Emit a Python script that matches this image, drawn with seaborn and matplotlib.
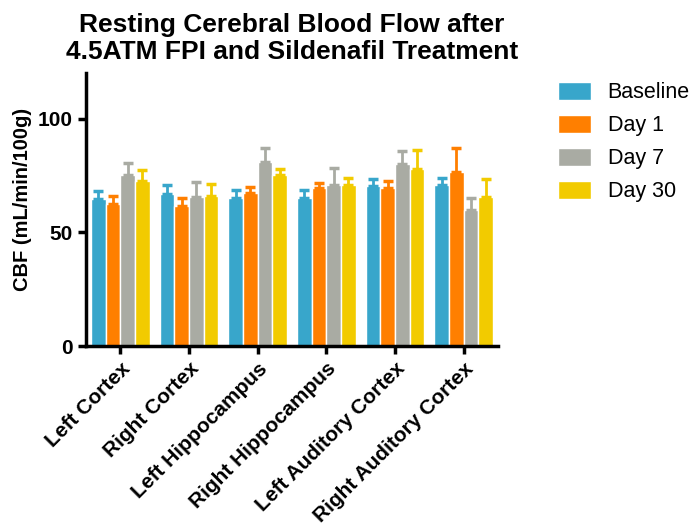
import pandas as pd
import matplotlib.pyplot as plt
import seaborn as sns

sns.set_style("white")
plt.rcParams["font.family"] = ["Liberation Sans", "DejaVu Sans"]
plt.rcParams["text.color"] = "black"
plt.rcParams["axes.labelcolor"] = "black"
plt.rcParams["xtick.color"] = "black"
plt.rcParams["ytick.color"] = "black"

# ---- data ----
regions = ["Left Cortex", "Right Cortex", "Left Hippocampus",
           "Right Hippocampus", "Left Auditory Cortex", "Right Auditory Cortex"]
timepoints = ["Baseline", "Day 1", "Day 7", "Day 30"]

baseline = [64.8, 67.0, 64.9, 65.2, 70.2, 70.6]
day1 = [62.4, 61.4, 67.3, 69.4, 69.4, 76.6]
day7 = [75.0, 65.6, 81.0, 70.8, 80.1, 60.0]
day30 = [72.5, 66.0, 75.0, 70.8, 77.9, 65.6]

baseline_sem = [3.3, 3.6, 3.5, 3.2, 3.2, 3.1]
day1_sem = [3.4, 3.5, 2.4, 2.1, 3.3, 10.4]
day7_sem = [5.4, 6.3, 6.1, 7.6, 5.6, 5.0]
day30_sem = [4.7, 5.0, 2.9, 3.0, 8.2, 7.8]

colors = ["#38A6CB", "#FF7F00", "#A9ABA3", "#F2CB00"]

values = [baseline, day1, day7, day30]
sems = [baseline_sem, day1_sem, day7_sem, day30_sem]

df = pd.DataFrame({
    "region": regions * 4,
    "timepoint": [t for t in timepoints for _ in regions],
    "cbf": baseline + day1 + day7 + day30,
})

fig = plt.figure(figsize=(6.99, 5.26), dpi=100)
ax = fig.add_axes([86 / 699, 1 - 346 / 526, (498 - 86) / 699, (346 - 73) / 526])

sns.barplot(data=df, x="region", y="cbf", hue="timepoint",
            palette=colors, width=0.85, edgecolor="white", linewidth=1,
            errorbar=None, saturation=1, ax=ax)

# one sided SEM bars on top of each bar
for cont, sem, col in zip(ax.containers, sems, colors):
    for bar, e in zip(cont, sem):
        xc = bar.get_x() + bar.get_width() / 2
        h = bar.get_height()
        ax.errorbar(xc, h, yerr=[[0], [e]], fmt="none", ecolor=col,
                    elinewidth=2, capsize=3.5, capthick=2.5, zorder=1)

ax.set_ylim(0, 120)
ax.set_xlim(-0.5, 5.5)
ax.set_yticks([0, 50, 100])
ax.set_xlabel("")
ax.set_ylabel("CBF (mL/min/100g)", fontsize=14.5, fontweight="bold")
ax.yaxis.set_label_coords(-0.131, 0.538)
ax.set_title("Resting Cerebral Blood Flow after\n4.5ATM FPI and Sildenafil Treatment",
             fontsize=19, fontweight="bold", pad=10, linespacing=1.15)

sns.despine(ax=ax)
for s in ["left", "bottom"]:
    ax.spines[s].set_linewidth(2.5)
    ax.spines[s].set_color("black")
ax.tick_params(axis="both", direction="out", length=6, width=2.5, color="black",
               left=True, bottom=True)
plt.setp(ax.get_yticklabels(), fontsize=15, fontweight="bold")
plt.setp(ax.get_xticklabels(), fontsize=15, fontweight="bold",
         rotation=45, ha="right", rotation_mode="anchor")

handles, labels = ax.get_legend_handles_labels()
ax.legend(handles, labels, loc="upper left", bbox_to_anchor=(0.786, 0.86),
          bbox_transform=fig.transFigure, frameon=False, fontsize=15.5,
          handlelength=1.55, handleheight=0.87, handletextpad=0.75,
          labelspacing=0.55, borderaxespad=0)

fig.savefig("out.png", dpi=100)
